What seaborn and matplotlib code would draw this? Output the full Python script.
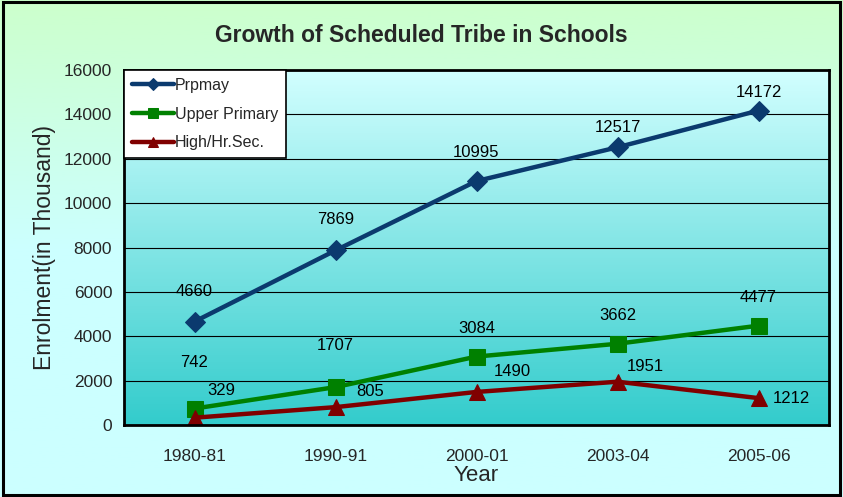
import numpy as np
import pandas as pd
import matplotlib
matplotlib.use("Agg")
import matplotlib.pyplot as plt
from matplotlib.colors import LinearSegmentedColormap
from matplotlib.patches import Rectangle
import seaborn as sns

# 01- Data
years = ["1980-81", "1990-91", "2000-01", "2003-04", "2005-06"]
prpmay = [4660, 7869, 10995, 12517, 14172]
upper_primary = [742, 1707, 3084, 3662, 4477]
high_sec = [329, 805, 1490, 1951, 1212]
series_names = ["Prpmay", "Upper Primary", "High/Hr.Sec."]

# label offsets in pixels (dx, dy) - hand placed like the original
label_offsets = {
    "Prpmay": [(0, 30), (0, 31), (0, 29), (0, 20), (0, 18)],
    "Upper Primary": [(0, 46), (0, 42), (0, 28), (0, 28), (0, 28)],
    "High/Hr.Sec.": [(27, 27), (35, 16), (36, 20), (28, 15), (33, 0)],
}

df = pd.DataFrame({
    "x": list(range(len(years))) * 3,
    "Year": years * 3,
    "value": prpmay + upper_primary + high_sec,
    "series": [s for s in series_names for _ in years],
})

colors = {"Prpmay": "#0B3A6E", "Upper Primary": "#008000", "High/Hr.Sec.": "#800000"}
markers = {"Prpmay": "D", "Upper Primary": "s", "High/Hr.Sec.": "^"}
msizes = {"Prpmay": 10, "Upper Primary": 11, "High/Hr.Sec.": 12}

sns.set_style("white")
plt.rcParams["font.family"] = ["Liberation Sans", "DejaVu Sans"]

fig = plt.figure(figsize=(8.43, 4.97), dpi=100)

# 02- Figure background gradient (light green -> light cyan)
bg = fig.add_axes([0, 0, 1, 1], zorder=-5)
bg_cmap = LinearSegmentedColormap.from_list("bg", ["#CCFFCC", "#CCFFFF", "#CCFFFF"])
bg.imshow(np.linspace(0, 1, 256).reshape(-1, 1), aspect="auto", cmap=bg_cmap,
          extent=[0, 1, 0, 1])
bg.set_axis_off()

ax = fig.add_axes([124 / 843, 1 - 425 / 497, 705 / 843, 355 / 497])

# plot area gradient
pa_cmap = LinearSegmentedColormap.from_list("pa", ["#D2FFFF", "#33CCCC"])
ax.imshow(np.linspace(0, 1, 256).reshape(-1, 1), aspect="auto", cmap=pa_cmap,
          extent=[-0.5, 4.5, 0, 16000], zorder=0)

# 03- Lines
for name in series_names:
    sub = df[df["series"] == name]
    sns.lineplot(data=sub, x="x", y="value", ax=ax, color=colors[name],
                 marker=markers[name], markersize=msizes[name], linewidth=3.2,
                 markeredgecolor=colors[name], label=name, zorder=3)
    for (xx, yy), off in zip(zip(sub["x"], sub["value"]), label_offsets[name]):
        ax.annotate(str(yy), (xx, yy), xytext=off, textcoords="offset pixels",
                    ha="center", va="center", fontsize=12, color="black", zorder=4)

ax.set_xlim(-0.5, 4.5)
ax.set_ylim(0, 16000)
ax.set_yticks(range(0, 16001, 2000))
ax.grid(axis="y", color="black", linewidth=0.8, zorder=1)
ax.set_axisbelow(False)

ax.set_xticks(range(len(years)))
ax.set_xticklabels(years)
ax.set_xticks(np.arange(-0.5, 4.6, 1), minor=True)
ax.tick_params(axis="x", which="major", length=0, labelsize=12.5, pad=17)
ax.tick_params(axis="x", which="minor", length=5, width=1.2, direction="out", color="black")
ax.tick_params(axis="y", length=5, width=1.2, direction="out", color="black", labelsize=12.5)

for sp in ax.spines.values():
    sp.set_color("black")
    sp.set_linewidth(2)
    sp.set_zorder(5)

ax.set_xlabel("Year", fontsize=16, labelpad=1)
ax.set_ylabel("Enrolment(in Thousand)", fontsize=16.5, labelpad=6)

leg = ax.legend(loc="upper left", bbox_to_anchor=(0, 1), borderaxespad=0,
                fontsize=11.5, frameon=True, fancybox=False, framealpha=1,
                edgecolor="black", handlelength=2.6, handletextpad=0.1,
                borderpad=0.5, labelspacing=0.85, markerscale=0.6)
leg.get_frame().set_linewidth(1.2)
leg.set_zorder(6)

fig.text(0.5, 1 - 36 / 497, "Growth of Scheduled Tribe in Schools", ha="center",
         va="center", fontsize=16.5, fontweight="bold")

fig.patches.append(Rectangle((0.003, 0.004), 0.994, 0.992, transform=fig.transFigure,
                             fill=False, edgecolor="black", linewidth=2.2, zorder=10))

fig.savefig("out.png", dpi=100)
